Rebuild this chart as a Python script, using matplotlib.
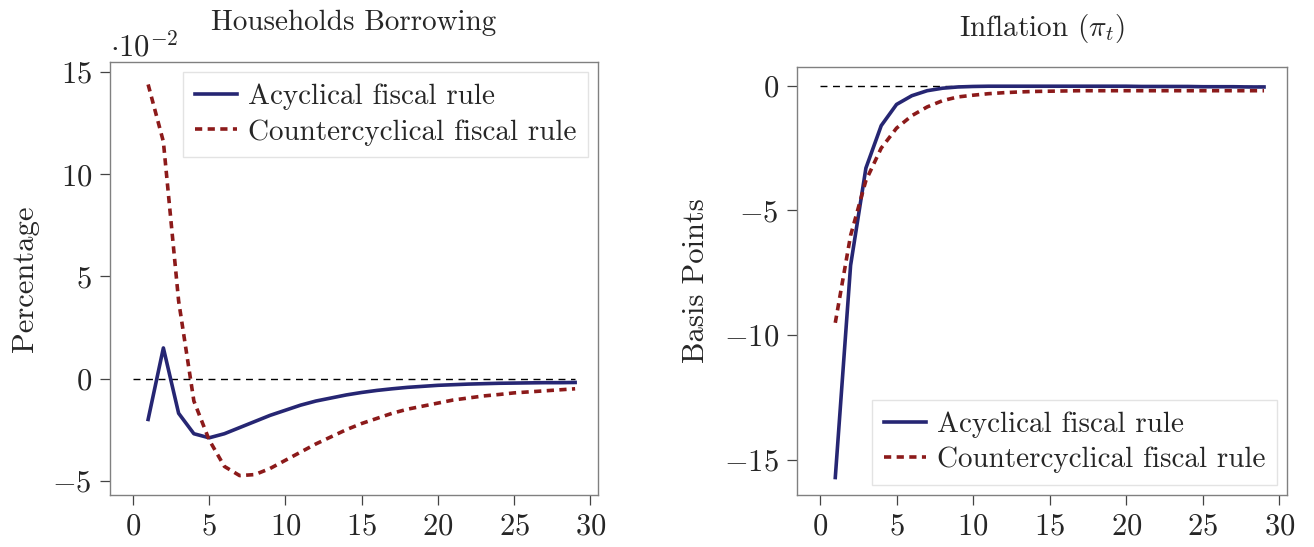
import numpy as np
import matplotlib
matplotlib.use('Agg')
import matplotlib.pyplot as plt

plt.rcParams['font.family'] = 'serif'
plt.rcParams['font.serif'] = ['cmr10']
plt.rcParams['mathtext.fontset'] = 'cm'
plt.rcParams['axes.formatter.use_mathtext'] = True
plt.rcParams['axes.unicode_minus'] = True

# horizon
t = np.arange(1, 30)

# Households borrowing, percentage (units of 1e-2)
borrow_acyc = [-2.0, 1.5, -1.7, -2.7, -2.9, -2.7, -2.4, -2.1, -1.8, -1.55,
               -1.3, -1.1, -0.95, -0.8, -0.68, -0.58, -0.5, -0.43, -0.38, -0.33,
               -0.3, -0.27, -0.25, -0.23, -0.22, -0.21, -0.2, -0.2, -0.19]
borrow_counter = [14.4, 11.6, 3.8, -1.1, -3.0, -4.3, -4.75, -4.7, -4.4, -4.0,
                  -3.6, -3.2, -2.85, -2.5, -2.2, -1.95, -1.7, -1.5, -1.35, -1.2,
                  -1.05, -0.95, -0.85, -0.78, -0.7, -0.65, -0.6, -0.55, -0.5]

# Inflation, basis points
infl_acyc = [-15.7, -7.2, -3.3, -1.6, -0.75, -0.4, -0.2, -0.1, -0.05, -0.03,
             -0.02, -0.02, -0.02, -0.02, -0.02, -0.02, -0.02, -0.02, -0.02, -0.02,
             -0.03, -0.03, -0.03, -0.03, -0.04, -0.04, -0.04, -0.05, -0.05]
infl_counter = [-9.5, -6.0, -3.8, -2.5, -1.7, -1.2, -0.85, -0.6, -0.45, -0.38,
                -0.32, -0.28, -0.25, -0.23, -0.22, -0.21, -0.2, -0.2, -0.2, -0.2,
                -0.2, -0.2, -0.2, -0.2, -0.2, -0.2, -0.2, -0.2, -0.2]

labels = ['Acyclical fiscal rule', 'Countercyclical fiscal rule']
blue = '#262673'
red = '#8c1a1a'
txt = '#262626'

fig = plt.figure(figsize=(13.14, 5.47), dpi=100)
ax1 = fig.add_axes([110/1314, 52/547, 488/1314, 433/547])
ax2 = fig.add_axes([797/1314, 52/547, 490/1314, 428/547])


def style(ax):
    for s in ax.spines.values():
        s.set_color('#808080')
        s.set_linewidth(1.0)
    ax.tick_params(direction='out', length=7, width=0.9, color='#444444',
                   labelsize=22, labelcolor=txt, pad=6)
    ax.set_xticks([0, 5, 10, 15, 20, 25, 30])
    ax.set_xlim(-1.5, 30.5)


def add_legend(ax, loc):
    leg = ax.legend(loc=loc, fontsize=21, frameon=True, fancybox=False,
                    handlelength=1.45, borderpad=0.4, labelspacing=0.3,
                    handletextpad=0.35, borderaxespad=0.35)
    leg.get_frame().set_edgecolor('#dddddd')
    leg.get_frame().set_linewidth(1.0)
    for tx in leg.get_texts():
        tx.set_color(txt)
    return leg


# Left panel
ax1.plot([0, 29], [0, 0], color='black', lw=1.0, ls=(0, (5, 4)))
ax1.plot(t, borrow_acyc, color=blue, lw=2.6, label=labels[0])
ax1.plot(t, borrow_counter, color=red, lw=2.6, ls=(0, (2.0, 1.5)), label=labels[1])
ax1.set_ylim(-5.7, 15.5)
ax1.set_yticks([-5, 0, 5, 10, 15])
style(ax1)
ax1.set_ylabel('Percentage', fontsize=22, labelpad=10, color=txt)
ax1.set_title('Households Borrowing', fontsize=21, pad=23, color=txt)
ax1.annotate(r'$\cdot10^{-2}$', xy=(0, 1), xycoords='axes fraction',
             xytext=(0, 0), textcoords='offset points', fontsize=22,
             ha='left', va='bottom', color=txt)
add_legend(ax1, 'upper right')

# Right panel
ax2.plot([0, 29], [0, 0], color='black', lw=1.0, ls=(0, (5, 4)))
ax2.plot(t, infl_acyc, color=blue, lw=2.6, label=labels[0])
ax2.plot(t, infl_counter, color=red, lw=2.6, ls=(0, (2.0, 1.5)), label=labels[1])
ax2.set_ylim(-16.4, 0.75)
ax2.set_yticks([-15, -10, -5, 0])
style(ax2)
ax2.set_ylabel('Basis Points', fontsize=22, labelpad=10, color=txt)
ax2.set_title(r'Inflation ($\pi_t$)', fontsize=21, pad=22, color=txt)
add_legend(ax2, 'lower right')

plt.savefig('out.png', dpi=100)
